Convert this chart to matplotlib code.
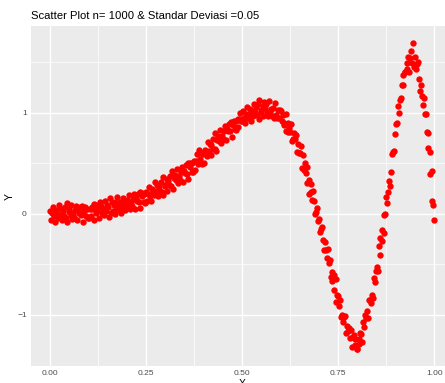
import matplotlib.pyplot as plt

# titik-titik (x, y)
x = [
    0.000, 0.003, 0.005, 0.008, 0.010, 0.013, 0.015, 0.018,
    0.020, 0.023, 0.025, 0.028, 0.030, 0.033, 0.035, 0.038,
    0.040, 0.043, 0.045, 0.048, 0.050, 0.053, 0.055, 0.058,
    0.060, 0.063, 0.065, 0.068, 0.070, 0.073, 0.075, 0.078,
    0.080, 0.083, 0.085, 0.088, 0.090, 0.093, 0.095, 0.098,
    0.100, 0.103, 0.105, 0.108, 0.110, 0.113, 0.115, 0.118,
    0.120, 0.123, 0.125, 0.128, 0.130, 0.133, 0.135, 0.138,
    0.140, 0.143, 0.145, 0.148, 0.150, 0.153, 0.155, 0.158,
    0.160, 0.163, 0.165, 0.168, 0.170, 0.173, 0.175, 0.178,
    0.180, 0.183, 0.185, 0.188, 0.190, 0.193, 0.195, 0.198,
    0.200, 0.203, 0.205, 0.208, 0.210, 0.213, 0.215, 0.218,
    0.220, 0.223, 0.225, 0.228, 0.230, 0.233, 0.235, 0.238,
    0.240, 0.243, 0.245, 0.248, 0.250, 0.253, 0.255, 0.258,
    0.260, 0.263, 0.265, 0.268, 0.270, 0.273, 0.275, 0.278,
    0.280, 0.283, 0.285, 0.288, 0.290, 0.293, 0.295, 0.298,
    0.300, 0.303, 0.305, 0.308, 0.310, 0.313, 0.315, 0.318,
    0.320, 0.323, 0.325, 0.328, 0.330, 0.333, 0.335, 0.338,
    0.340, 0.343, 0.345, 0.348, 0.350, 0.353, 0.355, 0.358,
    0.360, 0.363, 0.365, 0.368, 0.370, 0.373, 0.375, 0.378,
    0.380, 0.383, 0.385, 0.388, 0.390, 0.393, 0.395, 0.398,
    0.400, 0.403, 0.405, 0.408, 0.410, 0.413, 0.415, 0.418,
    0.420, 0.423, 0.425, 0.428, 0.430, 0.433, 0.435, 0.438,
    0.440, 0.443, 0.445, 0.448, 0.450, 0.453, 0.455, 0.458,
    0.460, 0.463, 0.465, 0.468, 0.470, 0.473, 0.475, 0.478,
    0.480, 0.483, 0.485, 0.488, 0.490, 0.493, 0.495, 0.498,
    0.500, 0.503, 0.505, 0.508, 0.510, 0.513, 0.515, 0.518,
    0.520, 0.523, 0.525, 0.528, 0.530, 0.533, 0.535, 0.538,
    0.540, 0.543, 0.545, 0.548, 0.550, 0.553, 0.555, 0.558,
    0.560, 0.563, 0.565, 0.568, 0.570, 0.573, 0.575, 0.578,
    0.580, 0.583, 0.585, 0.588, 0.590, 0.593, 0.595, 0.598,
    0.600, 0.603, 0.605, 0.608, 0.610, 0.613, 0.615, 0.618,
    0.620, 0.623, 0.625, 0.628, 0.630, 0.633, 0.635, 0.638,
    0.640, 0.643, 0.645, 0.648, 0.650, 0.653, 0.655, 0.658,
    0.660, 0.663, 0.665, 0.668, 0.670, 0.673, 0.675, 0.678,
    0.680, 0.683, 0.685, 0.688, 0.690, 0.693, 0.695, 0.698,
    0.700, 0.703, 0.705, 0.708, 0.710, 0.713, 0.715, 0.718,
    0.720, 0.723, 0.725, 0.728, 0.730, 0.733, 0.735, 0.738,
    0.740, 0.743, 0.745, 0.748, 0.750, 0.753, 0.755, 0.758,
    0.760, 0.763, 0.765, 0.768, 0.770, 0.773, 0.775, 0.778,
    0.780, 0.783, 0.785, 0.788, 0.790, 0.793, 0.795, 0.798,
    0.800, 0.803, 0.805, 0.808, 0.810, 0.813, 0.815, 0.818,
    0.820, 0.823, 0.825, 0.828, 0.830, 0.833, 0.835, 0.838,
    0.840, 0.843, 0.845, 0.848, 0.850, 0.853, 0.855, 0.858,
    0.860, 0.863, 0.865, 0.868, 0.870, 0.873, 0.875, 0.878,
    0.880, 0.883, 0.885, 0.888, 0.890, 0.893, 0.895, 0.898,
    0.900, 0.903, 0.905, 0.908, 0.910, 0.913, 0.915, 0.918,
    0.920, 0.923, 0.925, 0.928, 0.930, 0.933, 0.935, 0.938,
    0.940, 0.943, 0.945, 0.948, 0.950, 0.953, 0.955, 0.958,
    0.960, 0.963, 0.965, 0.968, 0.970, 0.973, 0.975, 0.978,
    0.980, 0.983, 0.985, 0.988, 0.990, 0.993, 0.995, 0.998,
    1.000,
]
y = [
    0.03, -0.06, 0.01, 0.07, -0.02, -0.08, 0.04, 0.00,
    -0.04, 0.09, -0.01, 0.05, -0.06, 0.03, -0.02, 0.07,
    -0.04, 0.11, -0.08, 0.02, 0.05, -0.01, 0.09, -0.05,
    0.01, -0.03, 0.04, 0.08, -0.06, 0.04, 0.01, 0.07,
    -0.01, 0.08, -0.08, 0.03, 0.07, -0.02, 0.05, -0.04,
    -0.04, 0.05, -0.02, 0.07, 0.05, -0.06, 0.10, 0.01,
    0.09, 0.03, 0.06, -0.04, 0.12, 0.08, 0.01, 0.05,
    -0.01, 0.13, 0.03, 0.09, 0.07, -0.03, 0.16, 0.01,
    0.12, 0.03, 0.09, 0.00, 0.12, 0.06, 0.17, 0.04,
    0.08, 0.12, 0.01, 0.07, 0.16, 0.10, 0.04, 0.13,
    0.14, 0.08, 0.19, 0.05, 0.12, 0.08, 0.15, 0.20,
    0.05, 0.16, 0.13, 0.20, 0.12, 0.22, 0.06, 0.18,
    0.21, 0.12, 0.20, 0.11, 0.22, 0.13, 0.20, 0.27,
    0.18, 0.13, 0.25, 0.22, 0.19, 0.32, 0.23, 0.29,
    0.18, 0.27, 0.23, 0.32, 0.22, 0.37, 0.19, 0.29,
    0.28, 0.35, 0.23, 0.33, 0.29, 0.38, 0.28, 0.43,
    0.25, 0.36, 0.39, 0.34, 0.45, 0.31, 0.38, 0.34,
    0.42, 0.47, 0.32, 0.43, 0.41, 0.48, 0.40, 0.50,
    0.35, 0.47, 0.50, 0.42, 0.50, 0.42, 0.52, 0.44,
    0.52, 0.59, 0.49, 0.63, 0.54, 0.60, 0.49, 0.59,
    0.50, 0.63, 0.60, 0.57, 0.71, 0.62, 0.69, 0.58,
    0.68, 0.64, 0.74, 0.64, 0.80, 0.62, 0.73, 0.77,
    0.72, 0.83, 0.70, 0.77, 0.74, 0.82, 0.87, 0.73,
    0.84, 0.82, 0.89, 0.82, 0.91, 0.76, 0.88, 0.92,
    0.84, 0.92, 0.83, 0.94, 0.86, 0.94, 1.00, 0.92,
    0.92, 1.02, 0.95, 0.90, 0.99, 1.06, 0.95, 0.99,
    1.04, 0.92, 1.02, 0.97, 1.09, 1.01, 1.06, 0.98,
    1.09, 0.94, 1.13, 1.03, 1.01, 1.07, 0.97, 1.11,
    1.05, 1.09, 1.01, 0.97, 1.12, 1.01, 1.04, 0.97,
    1.05, 0.95, 1.10, 0.98, 0.95, 1.03, 0.95, 1.03,
    1.02, 0.92, 0.98, 0.88, 0.90, 0.99, 0.82, 0.90,
    0.81, 0.85, 0.81, 0.89, 0.72, 0.74, 0.80, 0.74,
    0.78, 0.61, 0.69, 0.60, 0.60, 0.67, 0.46, 0.58,
    0.44, 0.50, 0.41, 0.47, 0.31, 0.34, 0.20, 0.30,
    0.22, 0.14, 0.23, 0.13, 0.00, 0.02, 0.06, -0.07,
    -0.05, -0.18, -0.15, -0.13, -0.26, -0.36, -0.28, -0.36,
    -0.44, -0.35, -0.49, -0.46, -0.62, -0.57, -0.66, -0.60,
    -0.75, -0.64, -0.87, -0.80, -0.81, -0.91, -0.85, -1.02,
    -1.00, -1.07, -1.02, -1.01, -1.18, -1.11, -1.16, -1.13,
    -1.23, -1.15, -1.32, -1.22, -1.20, -1.30, -1.24, -1.34,
    -1.34, -1.24, -1.29, -1.18, -1.19, -1.27, -1.07, -1.12,
    -1.00, -1.03, -0.96, -1.03, -0.85, -0.85, -0.88, -0.80,
    -0.83, -0.63, -0.67, -0.56, -0.52, -0.56, -0.32, -0.41,
    -0.24, -0.27, -0.16, -0.19, -0.01, 0.00, 0.17, 0.11,
    0.22, 0.33, 0.28, 0.42, 0.59, 0.61, 0.62, 0.79,
    0.89, 0.90, 1.07, 1.00, 1.13, 1.15, 1.28, 1.38,
    1.28, 1.41, 1.41, 1.49, 1.44, 1.55, 1.41, 1.54,
    1.61, 1.49, 1.69, 1.46, 1.55, 1.44, 1.48, 1.50,
    1.34, 1.22, 1.28, 1.17, 1.08, 1.15, 0.99, 0.99,
    0.81, 0.80, 0.65, 0.61, 0.40, 0.43, 0.13, 0.09,
    -0.06,
]

xticks = [0.00, 0.25, 0.50, 0.75, 1.00]
xtick_labels = ["0.00", "0.25", "0.50", "0.75", "1.00"]
yticks = [-1, 0, 1]

plt.rcParams['font.family'] = ['Liberation Sans', 'DejaVu Sans']

fig = plt.figure(figsize=(4.45, 3.83), dpi=100)
ax = fig.add_axes([31 / 445, 17 / 383, 422.4 / 445, 340 / 383])
ax.set_facecolor('#EBEBEB')

ax.scatter(x, y, color='red', s=21, linewidths=0, zorder=3)

ax.set_xlim(-0.05, 1.05)
ax.set_ylim(-1.505, 1.861)
ax.set_xticks(xticks)
ax.set_xticklabels(xtick_labels)
ax.set_yticks(yticks)
ax.set_xticks([0.125, 0.375, 0.625, 0.875], minor=True)
ax.set_yticks([-0.5, 0.5, 1.5], minor=True)

ax.grid(True, which='major', color='white', linewidth=1.0, zorder=1)
ax.grid(True, which='minor', color='white', linewidth=0.5, zorder=1)
ax.set_axisbelow(True)
for s in ax.spines.values():
    s.set_visible(False)
ax.tick_params(which='both', length=0)
ax.tick_params(axis='both', labelsize=6, labelcolor='#4D4D4D', pad=3)

ax.set_xlabel("X", fontsize=7.5, labelpad=1)
ax.set_ylabel("Y", fontsize=7.5, labelpad=2)
ax.set_title("Scatter Plot n= 1000 & Standar Deviasi =0.05", loc='left',
             fontsize=8.1, pad=5)

fig.savefig("out.png", dpi=100)
